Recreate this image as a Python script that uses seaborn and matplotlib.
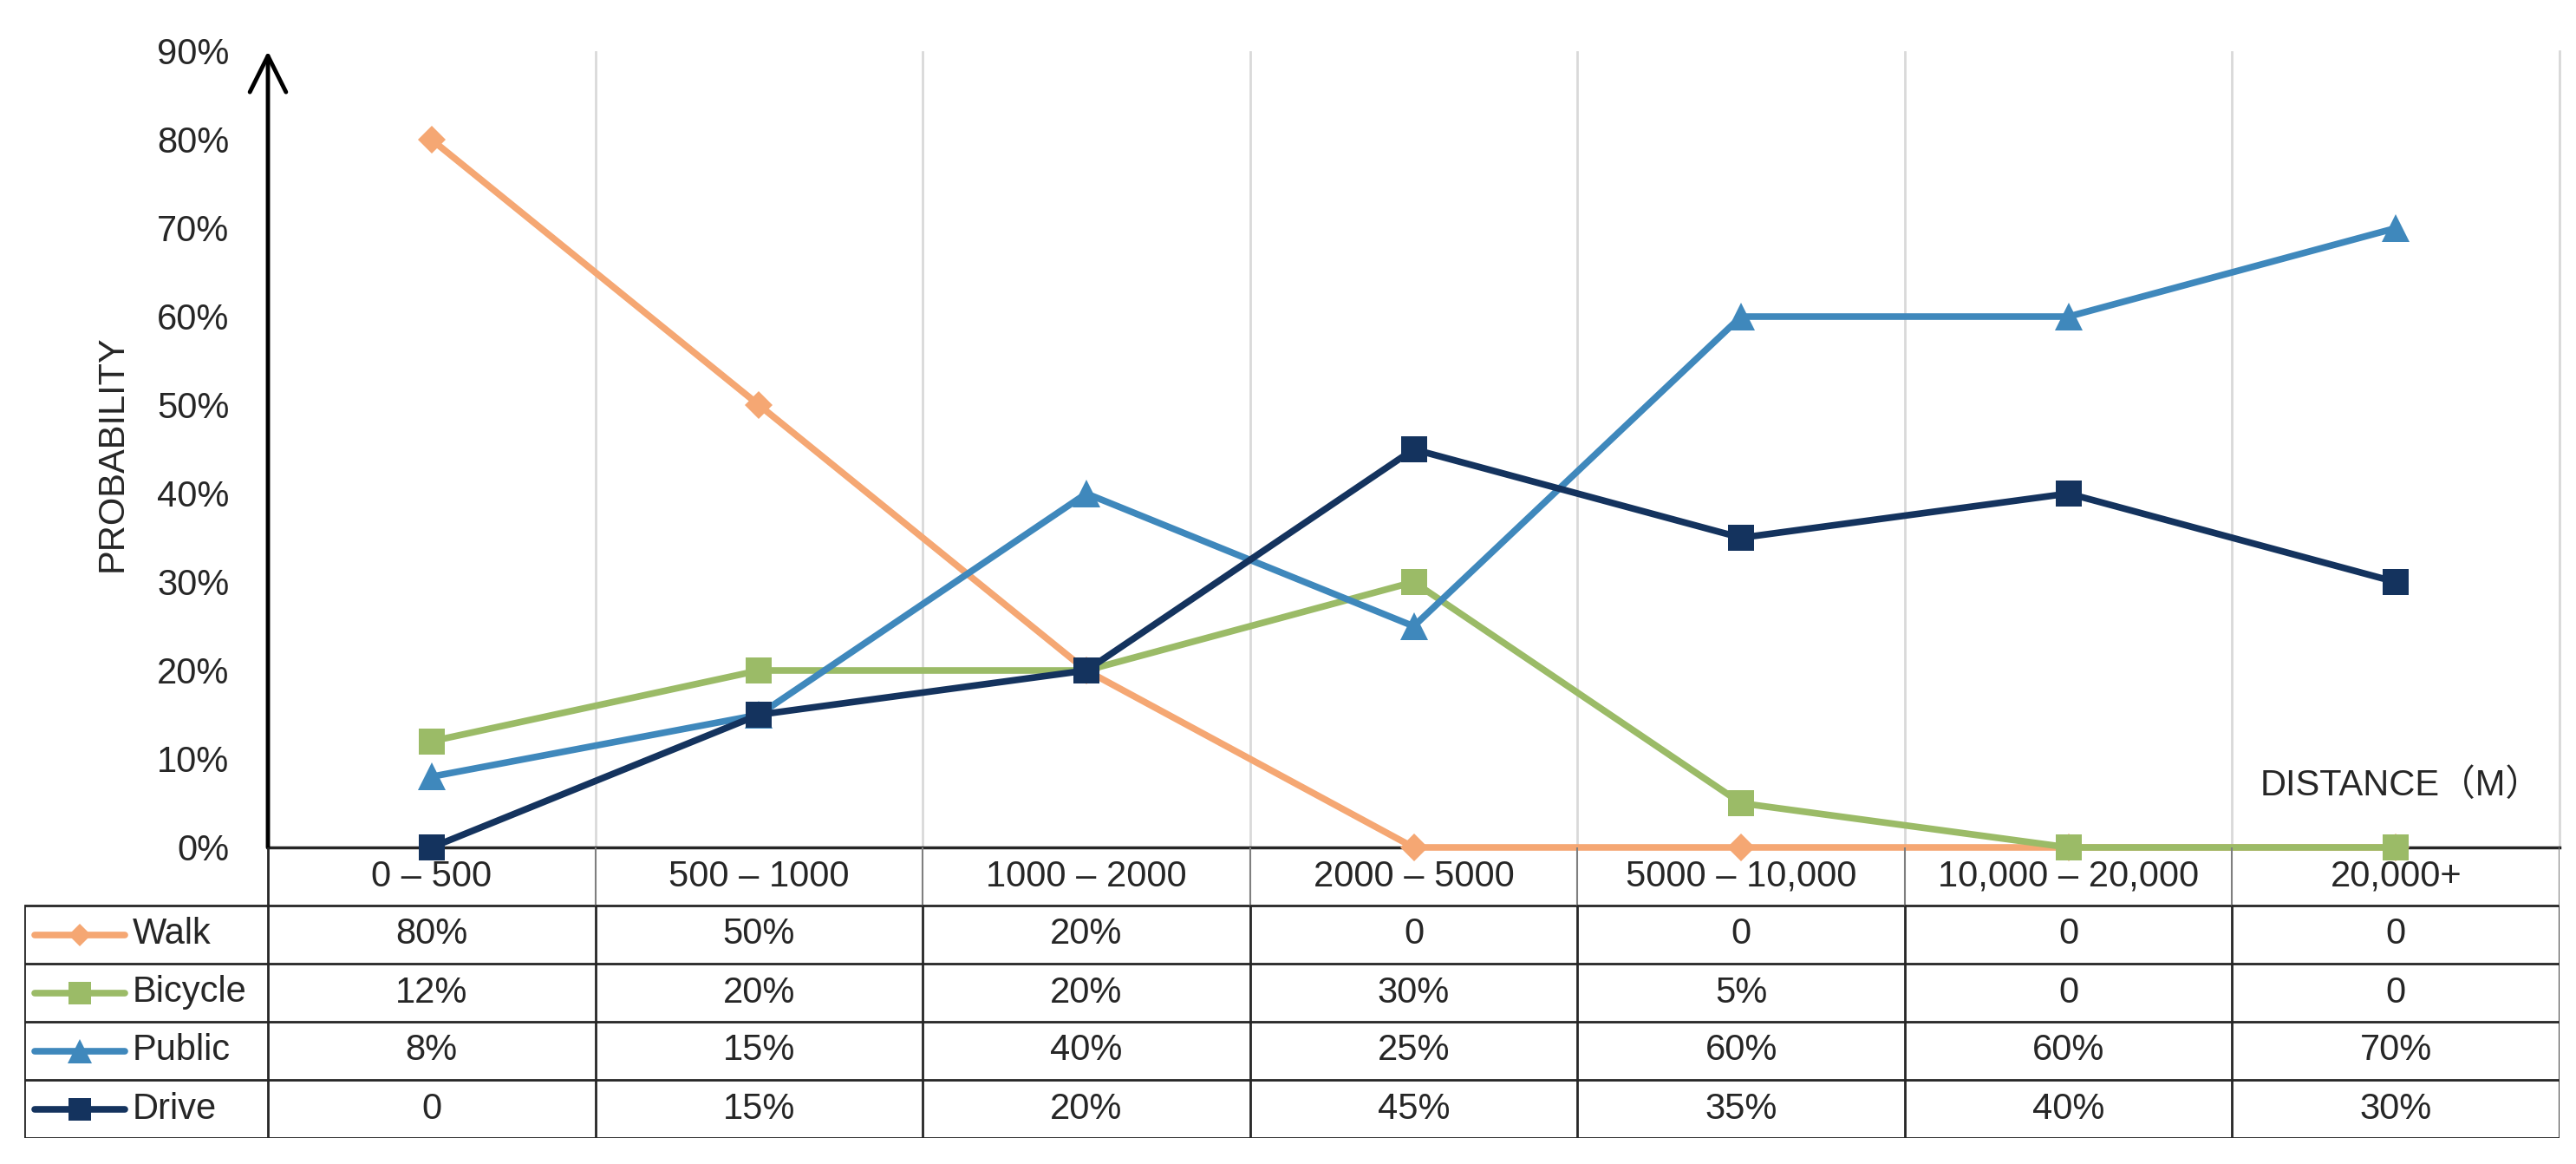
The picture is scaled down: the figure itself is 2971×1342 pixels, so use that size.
import numpy as np
import pandas as pd
import seaborn as sns
import matplotlib.pyplot as plt
from matplotlib.ticker import PercentFormatter

# data
categories = ['0 – 500', '500 – 1000', '1000 – 2000', '2000 – 5000',
              '5000 – 10,000', '10,000 – 20,000', '20,000+']
modes = ['Walk', 'Bicycle', 'Public', 'Drive']
walk = [0.80, 0.50, 0.20, 0.0, 0.0, 0.0, 0.0]
bicycle = [0.12, 0.20, 0.20, 0.30, 0.05, 0.0, 0.0]
public = [0.08, 0.15, 0.40, 0.25, 0.60, 0.60, 0.70]
drive = [0.0, 0.15, 0.20, 0.45, 0.35, 0.40, 0.30]
table_text = [
    ['80%', '50%', '20%', '0', '0', '0', '0'],
    ['12%', '20%', '20%', '30%', '5%', '0', '0'],
    ['8%', '15%', '40%', '25%', '60%', '60%', '70%'],
    ['0', '15%', '20%', '45%', '35%', '40%', '30%'],
]

colors = {'Walk': '#F5A773', 'Bicycle': '#9BBB67', 'Public': '#3F88BC', 'Drive': '#14335E'}
markers = {'Walk': 'D', 'Bicycle': 's', 'Public': '^', 'Drive': 's'}
msizes = {'Walk': 16, 'Bicycle': 22, 'Public': 23, 'Drive': 22}

df = pd.DataFrame({'distance': categories * 4,
                   'mode': np.repeat(modes, len(categories)),
                   'value': walk + bicycle + public + drive})

sns.set_style('white')
plt.rcParams['font.family'] = ['Liberation Sans', 'Noto Sans CJK SC', 'DejaVu Sans']
FS = 30

W, H = 2971, 1342
fig = plt.figure(figsize=(W / 100, H / 100), dpi=100)

x_left, x_right = 309, 2952
y_zero, y_top = 977, 59
ax = fig.add_axes([x_left / W, 1 - y_zero / H, (x_right - x_left) / W, (y_zero - y_top) / H])

for m in modes:
    sub = df[df['mode'] == m]
    sns.lineplot(data=sub, x='distance', y='value', ax=ax, color=colors[m], lw=5.5,
                 marker=markers[m], markersize=msizes[m], markeredgewidth=0,
                 sort=False, label=m, legend=False, clip_on=False, zorder=3)

ax.set_xlim(-0.5, 6.5)
ax.set_ylim(0, 0.9)
ax.set_yticks(np.arange(0, 0.91, 0.1))
ax.yaxis.set_major_formatter(PercentFormatter(1.0, decimals=0))
ax.tick_params(axis='y', length=0, pad=32, labelsize=FS)
ax.set_xticks([])
ax.set_xticks(np.arange(0.5, 6.6, 1), minor=True)
ax.tick_params(axis='x', which='both', length=0, labelbottom=False)
ax.grid(False)
ax.grid(True, which='minor', axis='x', color='#D9D9D9', lw=2)
ax.set_xlabel('')
ax.set_ylabel('')
for s in ['top', 'left']:
    ax.spines[s].set_visible(False)
ax.spines['right'].set_color('#D9D9D9')
ax.spines['right'].set_linewidth(2)
ax.spines['bottom'].set_color('#262626')
ax.spines['bottom'].set_linewidth(2.5)

# y axis as an arrow
ax.annotate('', xy=(-0.5, 0.9), xytext=(-0.5, 0), xycoords='data',
            arrowprops=dict(arrowstyle='->,head_length=1.0,head_width=0.5', lw=3.5,
                            color='black', shrinkA=0, shrinkB=0),
            annotation_clip=False, fontsize=30)

fig.text(130 / W, 1 - 523 / H, 'PROBABILITY', rotation=90, ha='center', va='center', fontsize=FS)
fig.text(2769 / W, 1 - 906 / H, 'DISTANCE（M）', ha='center', va='center', fontsize=FS)

# data table below the plot
t_left, t_bottom = 28, 1312
leg_w = (x_left - t_left) / ((x_right - x_left) / 7)
tab = fig.add_axes([t_left / W, 1 - t_bottom / H, (x_right - t_left) / W, (t_bottom - y_zero) / H])
tab.set_xlim(-0.5 - leg_w, 6.5)
tab.set_ylim(5, 0)
tab.axis('off')

dark = '#262626'
x0 = -0.5 - leg_w
for r in range(1, 6):
    tab.plot([x0, 6.5], [r, r], color=dark, lw=2, solid_capstyle='butt')
tab.plot([x0, x0], [1, 5], color=dark, lw=2)
tab.plot([-0.5, -0.5], [0, 5], color=dark, lw=2)
for b in np.arange(0.5, 6.6, 1):
    tab.plot([b, b], [0, 1], color='#7F7F7F', lw=1.5)
    tab.plot([b, b], [1, 5], color=dark, lw=2)

for i, c in enumerate(categories):
    tab.text(i, 0.5, c, ha='center', va='center', fontsize=FS)
for r, m in enumerate(modes):
    yy = r + 1.5
    for i, t in enumerate(table_text[r]):
        tab.text(i, yy, t, ha='center', va='center', fontsize=FS)
    lx = np.array([x0 + 0.032, x0 + 0.308])
    tab.plot(lx, [yy, yy], color=colors[m], lw=5.5, solid_capstyle='round')
    tab.plot([lx.mean()], [yy], marker=markers[m], color=colors[m],
             markersize=msizes[m] * 0.85, markeredgewidth=0)
    tab.text(x0 + 0.33, yy, m, ha='left', va='center', fontsize=FS)

fig.savefig('out.png', dpi=100, facecolor='white')
